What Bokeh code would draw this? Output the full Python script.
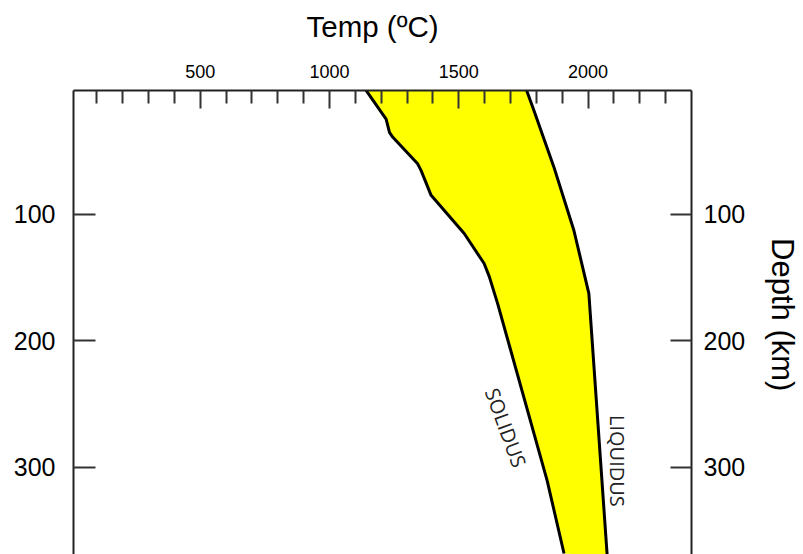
from bokeh.plotting import figure
from bokeh.models import Range1d, LinearAxis, FixedTicker
from bokeh.core.properties import value
from bokeh.embed import file_html
from bokeh.resources import INLINE

# Solidus and liquidus curves (temperature in ºC vs depth in km)
solidus_depth = [0, 24.6, 35.1, 39.0, 60.0, 65.2, 84.9, 115.1, 138.8, 149.2, 170.3, 310.7, 368.1]
solidus_temp = [1135, 1219, 1232, 1245, 1341, 1354, 1393, 1521, 1598, 1618, 1650, 1842, 1907]
liquidus_depth = [0, 18.0, 62.6, 112.5, 162.4, 370.0]
liquidus_temp = [1759, 1791, 1868, 1945, 2003, 2074]

temp_ticks = [500, 1000, 1500, 2000]
temp_minor_ticks = [100, 200, 300, 400, 600, 700, 800, 900, 1100, 1200, 1300, 1400,
                    1600, 1700, 1800, 1900, 2100, 2200, 2300]
depth_ticks = [100, 200, 300]

p = figure(width=803, height=554,
           x_range=Range1d(10, 2400), y_range=Range1d(368.9, 2),
           output_backend="svg", toolbar_location=None,
           x_axis_location=None, y_axis_location=None,
           min_border_left=73, min_border_right=110, min_border_top=88, min_border_bottom=0)
p.xgrid.grid_line_color = None
p.ygrid.grid_line_color = None
p.outline_line_color = None
p.background_fill_color = "white"
p.border_fill_color = "white"

xs = solidus_temp + liquidus_temp[::-1]
ys = solidus_depth + liquidus_depth[::-1]
p.patch(xs, ys, fill_color="#FFFF00", line_color=None)
p.line(solidus_temp, solidus_depth, line_color="black", line_width=3, line_join="round")
p.line(liquidus_temp, liquidus_depth, line_color="black", line_width=3, line_join="round")

p.text(x=[1682], y=[268.7], text=["SOLIDUS"], angle=-1.22,
       text_align="center", text_baseline="middle",
       text_font=value("Open Sans"), text_font_size=value("20px"), text_color="#222222")
p.text(x=[2112], y=[294.9], text=["LIQUIDUS"], angle=-1.5708,
       text_align="center", text_baseline="middle",
       text_font=value("Open Sans"), text_font_size=value("20px"), text_color="#222222")

def style_axis(ax, font_size, standoff, tick_in):
    ax.axis_line_color = "#222222"
    ax.axis_line_width = 2
    ax.major_tick_line_color = "#333333"
    ax.major_tick_line_width = 2
    ax.minor_tick_line_color = "#333333"
    ax.minor_tick_line_width = 2
    ax.major_tick_in = tick_in
    ax.major_tick_out = 0
    ax.major_label_text_font = "Liberation Sans"
    ax.major_label_text_font_size = font_size
    ax.major_label_text_color = "black"
    ax.major_label_standoff = standoff

top = LinearAxis(ticker=FixedTicker(ticks=temp_ticks, minor_ticks=temp_minor_ticks))
style_axis(top, "18px", 13, 18)
top.minor_tick_in = 13
top.minor_tick_out = 0
p.add_layout(top, "above")

left = LinearAxis(ticker=FixedTicker(ticks=depth_ticks, minor_ticks=[]))
style_axis(left, "25px", 18, 22)
left.minor_tick_in = 0
left.minor_tick_out = 0
p.add_layout(left, "left")

right = LinearAxis(ticker=FixedTicker(ticks=depth_ticks, minor_ticks=[]))
style_axis(right, "25px", 12, 21)
right.minor_tick_in = 0
right.minor_tick_out = 0
right.axis_label = "Depth (km)\u2002"
right.axis_label_text_font = "Liberation Sans"
right.axis_label_text_font_size = "31px"
right.axis_label_text_font_style = "normal"
right.axis_label_text_color = "black"
right.axis_label_standoff = 17
p.add_layout(right, "right")

p.title.text = "Temp (ºC)"
p.title.align = "left"
p.title.offset = 233
p.title.standoff = 14
p.title.padding = dict(left=0, right=0, top=0, bottom=12)
p.title.text_font = "Liberation Sans"
p.title.text_font_size = "29.5px"
p.title.text_font_style = "normal"
p.title.text_color = "black"

open("out.html", "w").write(file_html(p, INLINE))
